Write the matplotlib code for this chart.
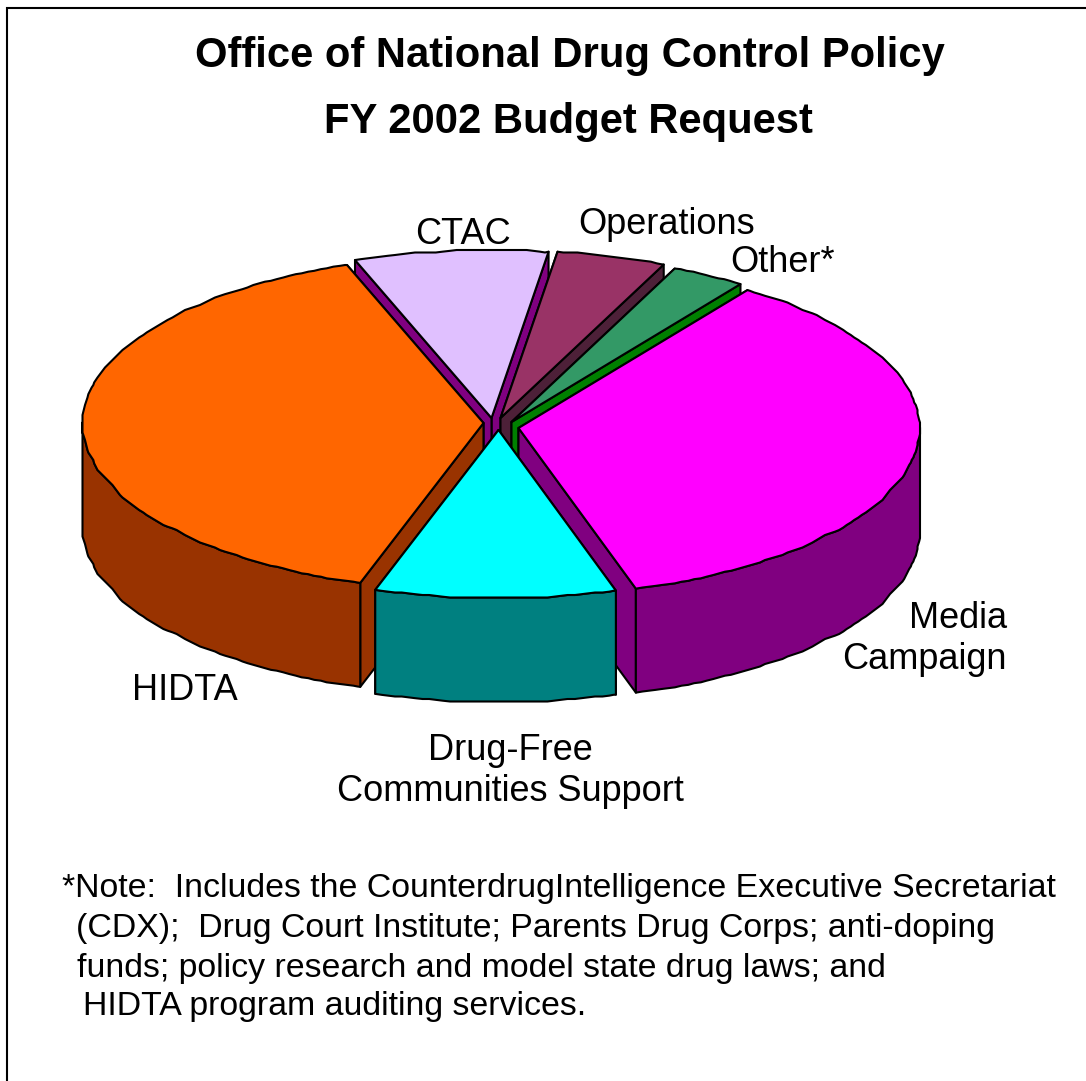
import numpy as np
import matplotlib
matplotlib.use("Agg")
import matplotlib.pyplot as plt
from matplotlib.patches import Polygon

# ---- data (estimated shares of the budget request, percent) ----
categories = ["HIDTA", "Drug-Free\nCommunities Support", "Media\nCampaign", "Other*", "Operations", "CTAC"]
shares = [39.5, 9.7, 35.6, 3.0, 4.4, 7.8]
title_lines = ["Office of National Drug Control Policy", "FY 2002 Budget Request"]
note_lines = ["*Note:  Includes the CounterdrugIntelligence Executive Secretariat",
              "(CDX);  Drug Court Institute; Parents Drug Corps; anti-doping",
              "funds; policy research and model state drug laws; and",
              "HIDTA program auditing services."]

# ---- styling / layout ----
top_colors = ["#FF6600", "#00FFFF", "#FF00FF", "#339966", "#993366", "#E0C0FF"]
wall_colors = ["#993300", "#008080", "#800080", "#008000", "#4D2038", "#800080"]
apex_offset = [(-17, 0), (-2, 7), (18, 5), (11, -1), (0, -5), (-9, -5)]
draw_order = [5, 4, 3, 0, 2, 1]
label_xy = [(185, 690), (510, 771), (1007, 639), (782, 262), (667, 224), (463, 235)]
label_ha = ["center", "center", "right", "center", "center", "center"]
note_xy = [(62, 889), (76, 929), (77, 969), (83, 1007)]
title_xy = [(570, 56), (568, 122)]
CENTER = (500.5, 423.0)
RX, RY, DEPTH = 401.0, 168.0, 104.0
START = 109.9
GRID = 2.5
STEP = 1.0
FONT = "Liberation Sans"
LW = 1.5

fig = plt.figure(figsize=(10.86, 10.81), dpi=100, facecolor="white")
ax = fig.add_axes([0, 0, 1, 1])
ax.set_xlim(0, 1086)
ax.set_ylim(1081, 0)
ax.axis("off")


def rim_points(cx, cy, t0, t1):
    inner = np.arange(np.ceil(t0 / STEP) * STEP, t1, STEP)
    t = np.concatenate([[t0], inner[inner > t0], [t1]])
    r = np.radians(t)
    x = cx + RX * np.cos(r)
    y = cy - RY * np.sin(r)
    # coarse device grid of the original drawing gives the scalloped rim
    qx = np.round(x / GRID) * GRID
    qy = np.round(y / GRID) * GRID
    if len(t) > 6:
        kernel = np.ones(3) / 3
        qx[1:-1] = np.convolve(qx, kernel, mode="valid")
        qy[1:-1] = np.convolve(qy, kernel, mode="valid")
    qx[[0, -1]] = x[[0, -1]]
    qy[[0, -1]] = y[[0, -1]]
    return t, np.column_stack([qx, qy])


def poly(pts, color, z):
    ax.add_patch(Polygon(pts, closed=True, facecolor=color, edgecolor="black",
                         linewidth=LW, joinstyle="round", zorder=z))


edges = START + np.concatenate([[0], np.cumsum(shares)]) / sum(shares) * 360.0
z = 2
for i in draw_order:
    t0, t1 = edges[i], edges[i + 1]
    cx, cy = CENTER[0] + apex_offset[i][0], CENTER[1] + apex_offset[i][1]
    t, rim = rim_points(cx, cy, t0, t1)
    apex = np.array([cx, cy])
    down = np.array([0, DEPTH])
    # radial walls, the one reaching further back first
    for p in sorted((rim[0], rim[-1]), key=lambda q: q[1]):
        poly([apex, p, p + down, apex + down], wall_colors[i], z)
        z += 1
    # outer wall: only the part of the rim facing the viewer
    front = rim[(t >= 180) & (t <= 360)]
    if len(front) > 1:
        poly(np.vstack([front, (front + down)[::-1]]), wall_colors[i], z)
        z += 1
    poly(np.vstack([apex, rim]), top_colors[i], z)
    z += 1

# frame
ax.plot([7, 7, 1086], [1081, 8, 8], color="black", lw=1.5, solid_joinstyle="miter", zorder=z)
z += 1

for line, (x, y) in zip(title_lines, title_xy):
    ax.text(x, y, line, ha="center", va="center", fontsize=30.1, fontweight="bold",
            family=FONT, zorder=z)
for name, (x, y), ha in zip(categories, label_xy, label_ha):
    ax.text(x, y, name, ha=ha, va="center", multialignment=ha, fontsize=26, family=FONT,
            linespacing=1.2, zorder=z)
for line, (x, y) in zip(note_lines, note_xy):
    ax.text(x, y, line, ha="left", va="center", fontsize=24.4, family=FONT, zorder=z)

fig.savefig("out.png", dpi=100, facecolor="white")
